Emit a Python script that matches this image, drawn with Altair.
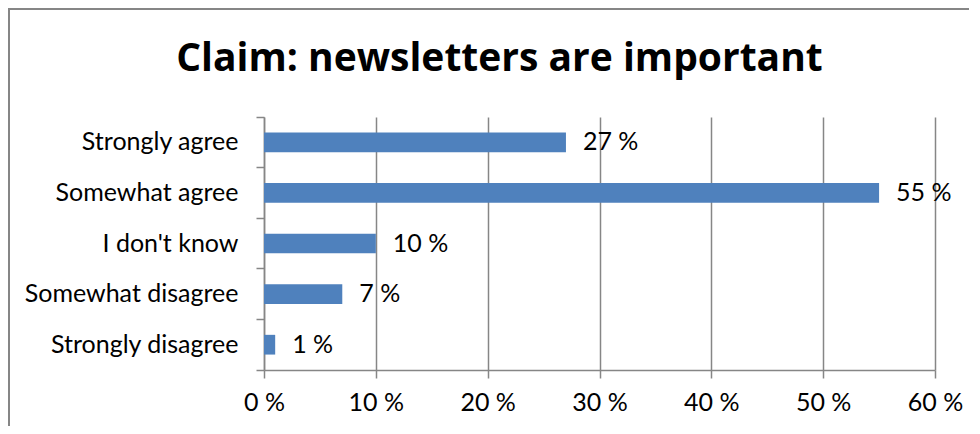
import altair as alt
import pandas as pd

categories = ["Strongly agree", "Somewhat agree", "I don't know", "Somewhat disagree", "Strongly disagree"]
values = [27, 55, 10, 7, 1]
x_ticks = [0, 10, 20, 30, 40, 50, 60]
title_text = "Claim: newsletters are important"

df = pd.DataFrame({"cat": categories, "val": values})
df["lbl"] = df["val"].astype(str) + " %"

FONT = "Lato"
GRAY = "#868686"
W, H = 671, 253
FS = 25

y_enc = alt.Y("cat:N", sort=categories, title=None,
              scale=alt.Scale(paddingInner=0, paddingOuter=0),
              axis=alt.Axis(bandPosition=1, tickExtra=True, tickSize=8, labelPadding=18,
                            labelLimit=400,
                            labelFontSize=FS, labelFont=FONT, labelColor="#000000",
                            domainColor=GRAY, tickColor=GRAY, domainWidth=1.5, tickWidth=1.5))
x_enc = alt.X("val:Q", title=None,
              scale=alt.Scale(domain=[0, 60], nice=False),
              axis=alt.Axis(values=x_ticks, labelExpr="datum.value + ' %'", grid=True,
                            labelFlush=False, labelOverlap=False,
                            gridColor=GRAY, gridWidth=1.5, tickSize=8, labelPadding=12,
                            labelFontSize=FS, labelFont=FONT, labelColor="#000000",
                            domainColor=GRAY, tickColor=GRAY, domainWidth=1.5, tickWidth=1.5))

bars = alt.Chart(df).mark_bar(color="#4F81BD", height={"band": 0.39}).encode(x=x_enc, y=y_enc)
labels = alt.Chart(df).mark_text(align="left", baseline="middle", dx=17, fontSize=FS,
                                 font=FONT, color="#000000").encode(
    x=alt.X("val:Q"), y=alt.Y("cat:N", sort=categories), text="lbl:N")
border = alt.Chart(df).mark_rect(fill=None, stroke=GRAY, strokeWidth=2, clip=False).encode(
    x=alt.value(-255), x2=alt.value(W + 200), y=alt.value(-108), y2=alt.value(H + 200))

chart = alt.layer(border, bars, labels).properties(
    width=W, height=H,
    title=alt.TitleParams(title_text, font="Open Sans", fontSize=39, fontWeight="bold",
                          color="#000000", anchor="middle", dx=-100, offset=-102,
                          baseline="alphabetic"),
    autosize=alt.AutoSizeParams(type="none"),
    padding={"left": 256, "top": 109, "right": 34, "bottom": 56},
).configure_view(stroke=None)

chart.save("out.html", embed_options={"renderer": "svg", "actions": False})
